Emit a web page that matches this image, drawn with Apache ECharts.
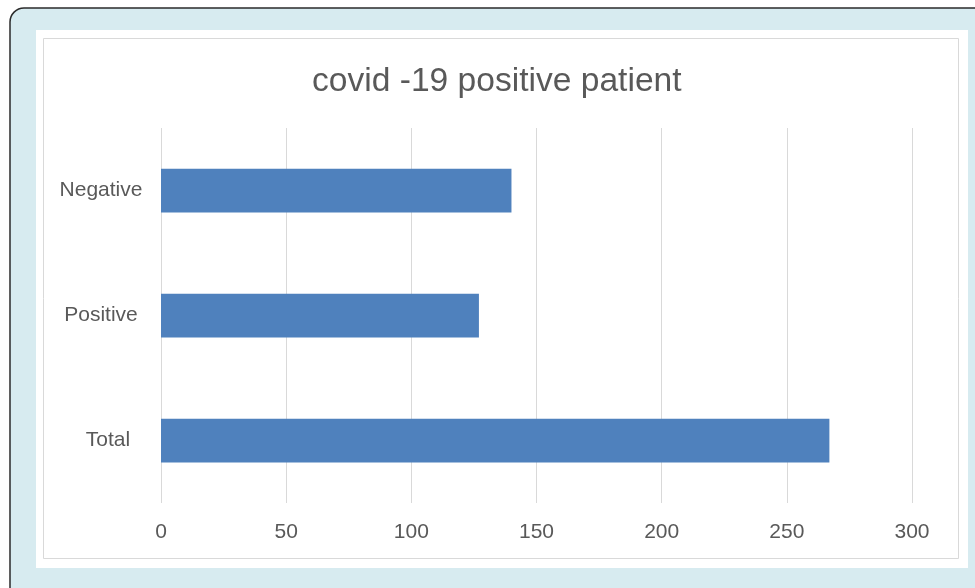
<!DOCTYPE html>
<html>
<head>
<meta charset="utf-8">
<script src="https://cdn.jsdelivr.net/npm/echarts@6/dist/echarts.min.js"></script>
<style>
html,body{margin:0;padding:0;background:#fff;}
#c{width:975px;height:588px;}
</style>
</head>
<body>
<div id="c"></div>
<script>
var titleText = 'covid -19 positive patient';
var categories = ['Total', 'Positive', 'Negative'];
var values = [267, 127, 140];
var xTicks = [0, 50, 100, 150, 200, 250, 300];

var chart = echarts.init(document.getElementById('c'), null, {renderer: 'canvas'});
var font = '"Liberation Sans", Arial, sans-serif';
chart.setOption({
  animation: false,
  backgroundColor: '#ffffff',
  graphic: [
    {type: 'rect', z: -10, shape: {x: 10, y: 8, width: 1000, height: 700, r: 14},
     style: {fill: '#d7ebf0', stroke: '#2b2b2b', lineWidth: 1.5}},
    {type: 'rect', z: -9, shape: {x: 36, y: 30, width: 932, height: 538},
     style: {fill: '#ffffff'}},
    {type: 'rect', z: -8, shape: {x: 43.5, y: 38.5, width: 915, height: 520},
     style: {fill: '#ffffff', stroke: '#d9d9d9', lineWidth: 1}}
  ],
  title: {
    text: titleText,
    left: 307,
    top: 60,
    padding: 5,
    textStyle: {fontFamily: font, fontSize: 33.6, fontWeight: 'normal', color: '#595959'}
  },
  grid: {left: 161, right: 63, top: 128, bottom: 85, containLabel: false},
  xAxis: {
    type: 'value',
    min: xTicks[0],
    max: xTicks[xTicks.length - 1],
    interval: 50,
    axisLine: {show: false},
    axisTick: {show: false},
    splitLine: {show: true, lineStyle: {color: '#d9d9d9', width: 1}},
    axisLabel: {fontFamily: font, fontSize: 21, color: '#595959', margin: 19}
  },
  yAxis: {
    type: 'category',
    data: categories,
    axisLine: {show: false},
    axisTick: {show: false},
    axisLabel: {
      fontFamily: font, fontSize: 21, color: '#595959', margin: 60, align: 'center',
      formatter: function (v) { return v === 'Total' ? '{t|' + v + '}' : v; },
      rich: {t: {fontFamily: font, fontSize: 21, color: '#595959', padding: [0, 0, 0, 14]}}
    }
  },
  series: [{
    type: 'bar',
    data: values,
    barCategoryGap: '65%',
    itemStyle: {color: '#4f81bd'}
  }]
});
</script>
</body>
</html>
